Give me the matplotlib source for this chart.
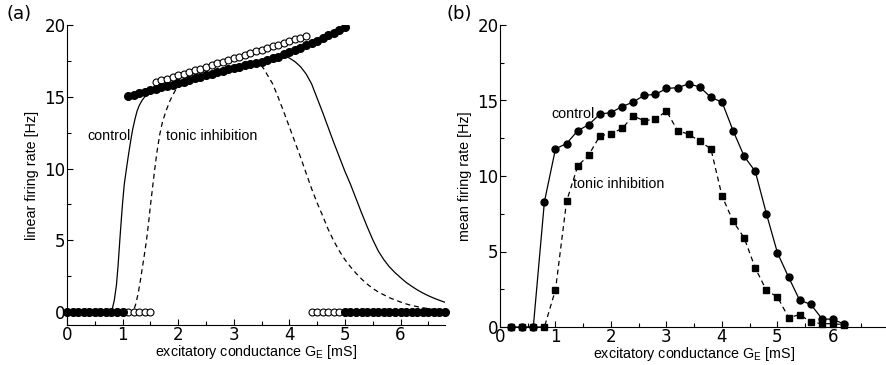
import matplotlib
matplotlib.use('Agg')
import matplotlib.pyplot as plt
import numpy as np
from matplotlib.ticker import MultipleLocator

# ---- panel (a): linear firing rate ----
# stable upper branch (filled = control, open = tonic inhibition) and lower branch at 0
up_ctrl_x = [1.1, 1.2, 1.3, 1.4, 1.5, 1.6, 1.7, 1.8, 1.9, 2.0, 2.1, 2.2, 2.3, 2.4, 2.5,
             2.6, 2.7, 2.8, 2.9, 3.0, 3.1, 3.2, 3.3, 3.4, 3.5, 3.6, 3.7, 3.8, 3.9, 4.0,
             4.1, 4.2, 4.3, 4.4, 4.5, 4.6, 4.7, 4.8, 4.9, 5.0]
up_ctrl_y = [15.05, 15.15, 15.25, 15.35, 15.45, 15.55, 15.65, 15.75, 15.85, 15.95, 16.06,
             16.17, 16.28, 16.39, 16.5, 16.6, 16.7, 16.8, 16.9, 17.0, 17.09, 17.18, 17.27,
             17.36, 17.45, 17.56, 17.68, 17.8, 17.95, 18.1, 18.26, 18.42, 18.58, 18.74,
             18.9, 19.08, 19.27, 19.46, 19.65, 19.84]
up_tonic_x = [1.6, 1.7, 1.8, 1.9, 2.0, 2.1, 2.2, 2.3, 2.4, 2.5, 2.6, 2.7, 2.8, 2.9, 3.0,
              3.1, 3.2, 3.3, 3.4, 3.5, 3.6, 3.7, 3.8, 3.9, 4.0, 4.1, 4.2, 4.3]
up_tonic_y = [16.05, 16.15, 16.27, 16.38, 16.5, 16.6, 16.72, 16.84, 16.96, 17.08, 17.2,
              17.32, 17.44, 17.56, 17.68, 17.8, 17.92, 18.04, 18.16, 18.28, 18.4, 18.52,
              18.64, 18.76, 18.88, 19.0, 19.1, 19.2]
low_ctrl_x = [0.0, 0.1, 0.2, 0.3, 0.4, 0.5, 0.6, 0.7, 0.8, 0.9, 1.0,
              5.0, 5.1, 5.2, 5.3, 5.4, 5.5, 5.6, 5.7, 5.8, 5.9, 6.0, 6.1, 6.2, 6.3,
              6.4, 6.5, 6.6, 6.7, 6.8]
low_tonic_x = [0.0, 0.1, 0.2, 0.3, 0.4, 0.5, 0.6, 0.7, 0.8, 0.9, 1.0, 1.1, 1.2, 1.3,
               1.4, 1.5,
               4.4, 4.5, 4.6, 4.7, 4.8, 4.9, 5.0, 5.1, 5.2, 5.3, 5.4, 5.5, 5.6, 5.7,
               5.8, 5.9, 6.0, 6.1, 6.2, 6.3, 6.4, 6.5, 6.6, 6.7, 6.8]

# firing-rate curves (control solid, tonic dashed)
curve_ctrl_x = [0.0, 0.8, 0.85, 0.89, 0.92, 0.95, 0.98, 1.0, 1.03, 1.07, 1.1, 1.14, 1.18,
                1.22, 1.26, 1.3, 1.35, 1.4, 1.45, 1.5, 1.55, 1.6, 1.8, 2.0, 2.2, 2.4,
                2.6, 2.8, 3.0, 3.2, 3.4, 3.6, 3.7, 3.8, 3.88, 3.95, 4.0, 4.1, 4.2, 4.3,
                4.4, 4.5, 4.6, 4.7, 4.8, 4.9, 5.0, 5.1, 5.2, 5.3, 5.4, 5.5, 5.6, 5.7,
                5.8, 5.9, 6.0, 6.1, 6.2, 6.3, 6.4, 6.5, 6.6, 6.7, 6.8]
curve_ctrl_y = [0.0, 0.0, 0.8, 1.9, 3.3, 5.0, 6.6, 7.6, 8.9, 10.0, 10.8, 11.8, 12.7,
                13.4, 14.0, 14.4, 14.75, 15.0, 15.2, 15.33, 15.43, 15.52, 15.72, 15.92,
                16.14, 16.36, 16.58, 16.78, 16.98, 17.16, 17.34, 17.52, 17.64, 17.76,
                17.8, 17.78, 17.7, 17.45, 17.1, 16.6, 15.9, 14.9, 13.9, 12.85, 11.8, 10.8,
                9.8, 8.9, 7.9, 6.9, 5.95, 5.05, 4.25, 3.65, 3.15, 2.75, 2.4, 2.07, 1.8,
                1.55, 1.33, 1.14, 0.97, 0.82, 0.68]
curve_tonic_x = [0.0, 1.19, 1.24, 1.28, 1.32, 1.36, 1.4, 1.43, 1.47, 1.5, 1.54, 1.58,
                 1.62, 1.67, 1.72, 1.79, 1.85, 1.9, 1.95, 2.0, 2.2, 2.4, 2.6, 2.8, 3.0,
                 3.2, 3.4, 3.46, 3.5, 3.55, 3.6, 3.7, 3.8, 3.9, 4.0, 4.1, 4.2, 4.3, 4.4,
                 4.5, 4.6, 4.7, 4.8, 4.9, 5.0, 5.1, 5.2, 5.3, 5.4, 5.5, 5.6, 5.7, 5.8,
                 5.9, 6.0, 6.1, 6.2, 6.3, 6.4, 6.5, 6.6, 6.7, 6.8]
curve_tonic_y = [0.0, 0.0, 0.6, 1.3, 2.2, 3.2, 4.2, 5.0, 6.3, 7.4, 8.7, 10.0, 11.2, 12.4,
                 13.3, 14.1, 14.7, 15.1, 15.45, 15.75, 16.12, 16.36, 16.58, 16.78, 16.98,
                 17.16, 17.3, 17.3, 17.15, 16.9, 16.55, 15.9, 14.95, 13.95, 12.9, 11.85,
                 10.8, 9.7, 8.6, 7.6, 6.7, 5.75, 4.95, 4.25, 3.65, 3.15, 2.7, 2.3, 1.95,
                 1.65, 1.4, 1.2, 1.0, 0.85, 0.7, 0.57, 0.46, 0.38, 0.3, 0.24, 0.19, 0.15,
                 0.12]

# ---- panel (b): mean firing rate ----
ge_b = [0.2, 0.4, 0.6, 0.8, 1.0, 1.2, 1.4, 1.6, 1.8, 2.0, 2.2, 2.4, 2.6, 2.8, 3.0, 3.2,
        3.4, 3.6, 3.8, 4.0, 4.2, 4.4, 4.6, 4.8, 5.0, 5.2, 5.4, 5.6, 5.8, 6.0, 6.2]
rate_ctrl = [0, 0, 0, 8.29, 11.8, 12.15, 13.0, 13.4, 14.1, 14.2, 14.6, 14.9, 15.35, 15.4,
             15.8, 15.85, 16.1, 15.9, 15.2, 14.9, 13.0, 11.3, 10.3, 7.5, 4.9, 3.3, 1.77,
             1.5, 0.55, 0.5, 0.2]
rate_tonic = [0, 0, 0, 0, 2.47, 8.33, 10.65, 11.4, 12.66, 12.8, 13.15, 13.97, 13.66,
              13.77, 14.3, 13.0, 12.77, 12.3, 11.8, 8.68, 7.0, 5.9, 3.9, 2.43, 1.99, 0.62,
              0.82, 0.33, 0.22, 0.22, 0.15]

label_font = ['Liberation Sans', 'DejaVu Sans']
label_size = 10.3
plt.rcParams['font.family'] = ['DejaVu Sans']

fig = plt.figure(figsize=(8.87, 3.65), dpi=100)
ax1 = fig.add_axes([67 / 887, 40 / 365, 378 / 887, 300 / 365])
ax2 = fig.add_axes([500 / 887, 38 / 365, 388.5 / 887, 302 / 365])


def style(ax, xmax, ymin, ylabel):
    ax.spines['top'].set_visible(False)
    ax.spines['right'].set_visible(False)
    for s in ['left', 'bottom']:
        ax.spines[s].set_linewidth(0.8)
    ax.set_xlim(0, xmax)
    ax.set_ylim(ymin, 20)
    ax.set_xticks(range(0, 7))
    ax.set_yticks([0, 5, 10, 15, 20])
    ax.xaxis.set_minor_locator(MultipleLocator(0.5))
    ax.yaxis.set_minor_locator(MultipleLocator(2.5))
    ax.tick_params(which='both', direction='in', width=0.8, labelsize=12)
    ax.tick_params(which='major', length=4)
    ax.tick_params(which='minor', length=3)
    ax.tick_params(axis='y', pad=1)
    ax.tick_params(axis='x', pad=1)
    ax.set_xlabel(r'excitatory conductance G$_\mathregular{E}$ [mS]',
                  family=label_font, fontsize=label_size, labelpad=-1)
    ax.set_ylabel(ylabel, family=label_font, fontsize=label_size, labelpad=4)


# panel (a)
ax1.plot(curve_ctrl_x, curve_ctrl_y, color='black', lw=0.9)
ax1.plot(curve_tonic_x, curve_tonic_y, color='black', lw=0.9, ls=(0, (4, 3)))
ax1.plot(low_tonic_x, np.zeros(len(low_tonic_x)), 'o', ms=5, mfc='white', mec='black',
         mew=0.8, clip_on=False)
ax1.plot(up_tonic_x, up_tonic_y, 'o', ms=5, mfc='white', mec='black', mew=0.8)
ax1.plot(low_ctrl_x, np.zeros(len(low_ctrl_x)), 'o', ms=5.5, color='black', clip_on=False)
ax1.plot(up_ctrl_x, up_ctrl_y, 'o', ms=5.5, color='black')
ax1.text(0.36, 12.3, 'control', family=label_font, fontsize=label_size, va='center')
ax1.text(1.78, 12.3, 'tonic inhibition', family=label_font, fontsize=label_size,
         va='center')
style(ax1, 6.8, -0.9, 'linear firing rate [Hz]')

# panel (b)
ax2.plot(ge_b, rate_ctrl, '-o', color='black', lw=0.9, ms=5, clip_on=False)
ax2.plot(ge_b, rate_tonic, 's', color='black', ls=(0, (4, 3)), lw=0.9, ms=4.5,
         clip_on=False)
ax2.text(0.93, 14.1, 'control', family=label_font, fontsize=label_size, va='center')
ax2.text(1.32, 9.5, 'tonic inhibition', family=label_font, fontsize=label_size,
         va='center')
style(ax2, 7, 0, 'mean firing rate [Hz]')

fig.text(7 / 887, 1 - 14 / 365, '(a)', fontsize=13, va='center')
fig.text(447 / 887, 1 - 14 / 365, '(b)', fontsize=13, va='center')

fig.savefig('out.png', dpi=100)
